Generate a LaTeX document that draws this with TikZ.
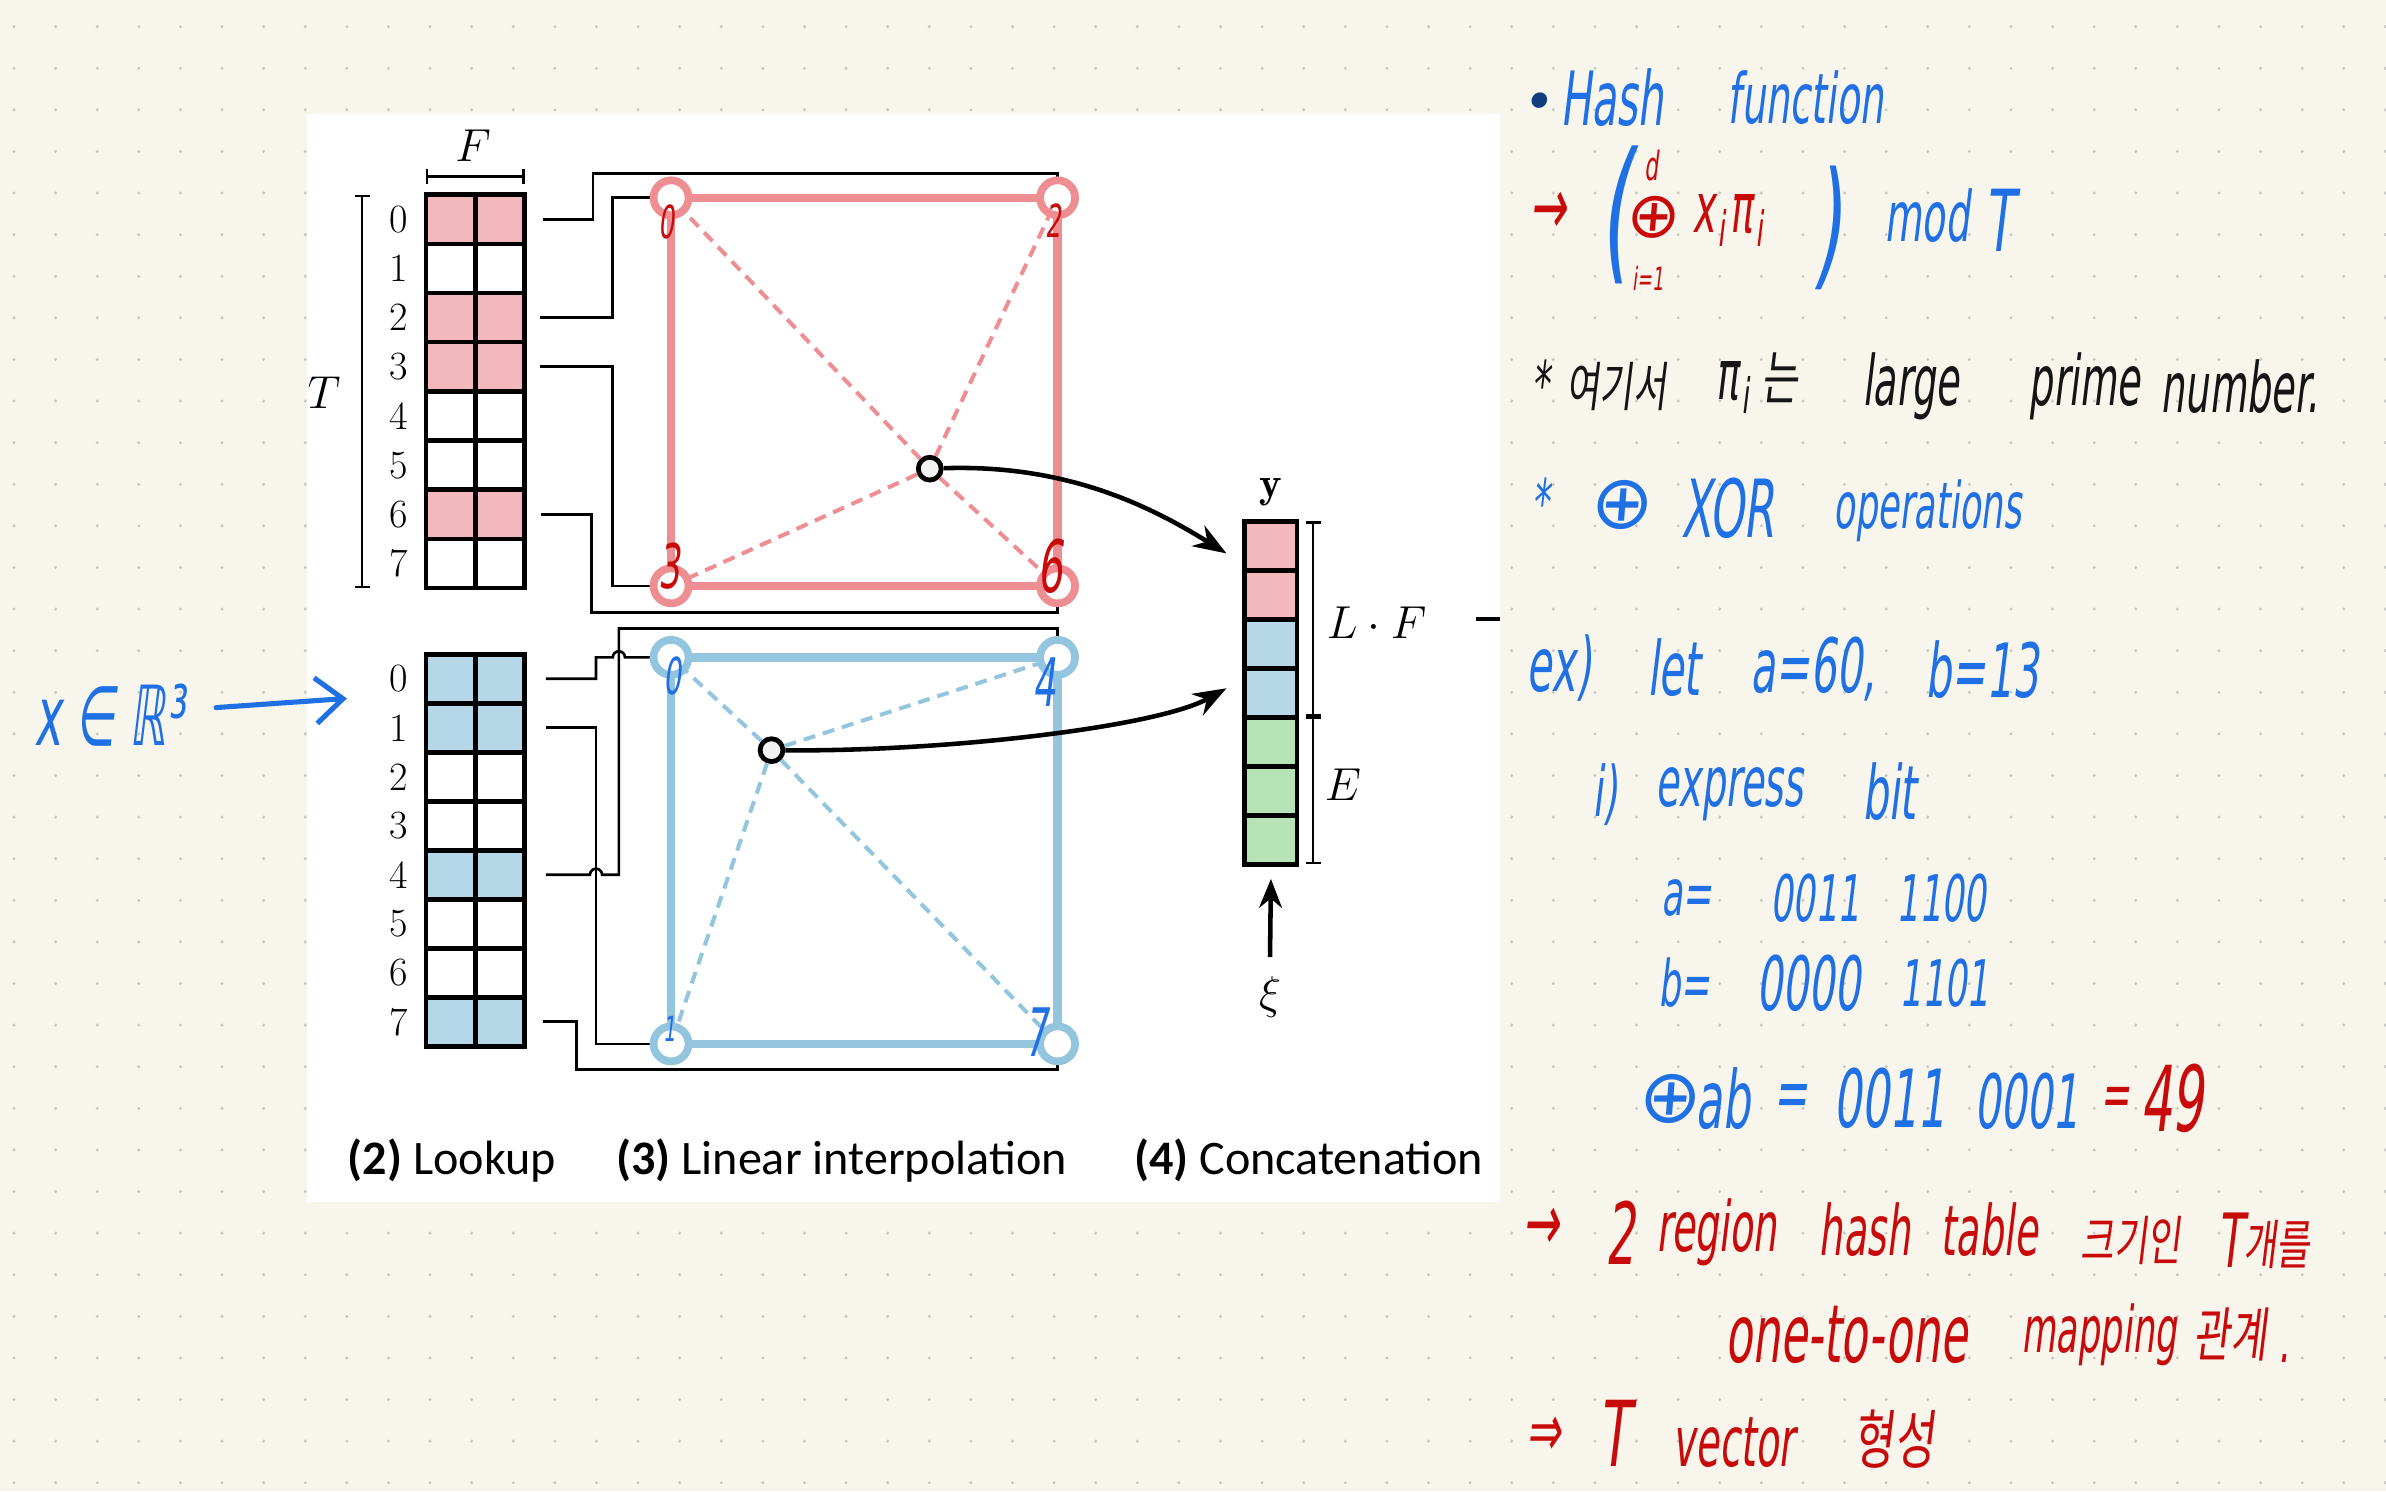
\documentclass[tikz,border=0pt]{standalone}
\usepackage{fontspec}
\usepackage{amsmath}
\usetikzlibrary{arrows.meta, positioning, calc}
\newfontfamily\capfont{Carlito}
\newfontfamily\hand{DejaVu Sans}[FakeStretch=0.55, FakeSlant=0.12]
\newfontfamily\handsym{DejaVu Sans}[FakeSlant=0.08]
\newfontfamily\handkr{Noto Sans CJK KR}[FakeStretch=0.68, FakeSlant=0.12]
\newcommand\hsz[1]{\fontsize{#1}{#1}\selectfont}
\definecolor{paper}{HTML}{F8F6EC}
\definecolor{dotc}{HTML}{C8C8C2}
\definecolor{cpink}{HTML}{F2B8BC}
\definecolor{cblue}{HTML}{B5D7E8}
\definecolor{cgreen}{HTML}{B6E3B6}
\definecolor{redline}{HTML}{EE8E93}
\definecolor{blueline}{HTML}{93C5DF}
\definecolor{penblue}{HTML}{1F6FE5}
\definecolor{penred}{HTML}{C80A0A}
\definecolor{penblack}{HTML}{151515}

\begin{document}
\begin{tikzpicture}[x=0.2mm, y=-0.2mm,
  cell/.style={draw, line width=1.7pt, inner sep=0pt, outer sep=0pt, minimum width=6.47mm, minimum height=6.46mm, anchor=north west},
  idx/.style={font=\hsz{15}, inner sep=0pt},
  mlbl/.style={font=\hsz{16}, inner sep=0pt},
  capt/.style={font=\capfont\hsz{18}, anchor=base, inner sep=0pt},
  wire/.style={line width=1pt},
  redge/.style={line width=3.2pt, draw=redline},
  bedge/.style={line width=3.2pt, draw=blueline},
  rdash/.style={line width=1.5pt, draw=redline, dash pattern=on 4.5pt off 3pt},
  bdash/.style={line width=1.5pt, draw=blueline, dash pattern=on 4.5pt off 3pt},
  rring/.style={circle, draw=redline, fill=white, line width=2.9pt, minimum size=4.6mm, inner sep=0pt},
  bring/.style={rring, draw=blueline},
  probe/.style={circle, draw=black, fill=white!95!black, line width=1.8pt, minimum size=3mm, inner sep=0pt},
  flow/.style={line width=1.7pt, -{Stealth[length=4.4mm, width=3.2mm]}},
  brk/.style={line width=0.9pt, {Bar[width=2mm]}-{Bar[width=2mm]}},
  pen/.style={line width=1.9pt, draw=penblue, line cap=round},
  hw/.style={anchor=west, inner sep=0pt, font=\hand\hsz{24}},
  hb/.style={hw, text=penblue},
  hr/.style={hw, text=penred},
  hk/.style={hw, text=penblack},
]
  % paper with dot grid
  \fill[paper] (0,0) rectangle (1568,980);
  \useasboundingbox (0,0) rectangle (1568,980);
  \foreach \i in {0,...,57}{\foreach \j in {0,...,35}{\fill[dotc] (9.2+27.34*\i,17.5+27.34*\j) circle[radius=1.1];}}
  \fill[white] (202,75) rectangle (985.7,790);

  % (2) lookup tables
  \foreach \k/\c in {0/cpink,1/white,2/cpink,3/cpink,4/white,5/white,6/cpink,7/white}{
    \node[cell, fill=\c] (rtl\k) at (280,128+32.3*\k) {};
    \node[cell, fill=\c] (rt\k) at (312.35,128+32.3*\k) {};
    \node[idx] (rn\k) at (262,144.2+32.3*\k) {\k};
  }
  \foreach \k/\c in {0/cblue,1/cblue,2/white,3/white,4/cblue,5/white,6/white,7/cblue}{
    \node[cell, fill=\c, minimum height=6.44mm] (btl\k) at (280,430+32.2*\k) {};
    \node[cell, fill=\c, minimum height=6.44mm] (bt\k) at (312.35,430+32.2*\k) {};
    \node[idx] (bn\k) at (262,446.1+32.2*\k) {\k};
  }
  \draw[brk] (238,128) -- (238,386.4);
  \node[mlbl] (tlab) at (213,258) {$T$};
  \draw[brk] (280,116) -- (344.7,116);
  \node[mlbl] (flab) at (311,96) {$F$};

  % (3) interpolation squares
  \coordinate (rc0) at (441,130);
  \coordinate (rc2) at (695,130);
  \coordinate (rc3) at (441,385);
  \coordinate (rc6) at (695,385);
  \coordinate (bc0) at (441,432);
  \coordinate (bc4) at (695,432);
  \coordinate (bc1) at (441,686);
  \coordinate (bc7) at (695,686);
  \node[probe] (rp) at (611,308) {};
  \node[probe] (bp) at (507,493) {};
  \foreach \c in {rc0,rc2,rc3,rc6} \draw[rdash] (rp) -- (\c);
  \foreach \c in {bc0,bc4,bc1,bc7} \draw[bdash] (bp) -- (\c);
  \draw[redge] (rc0) -- (rc2) -- (rc6) -- (rc3) -- cycle;
  \draw[bedge] (bc0) -- (bc4) -- (bc7) -- (bc1) -- cycle;

  % wires from table rows to corners
  \draw[wire] (rt0.east) ++(12,0) -- ++(33,0) |- ($(rc2)+(0,-16)$) -- (rc2);
  \draw[wire] (rt2.east) ++(10,0) -- ++(48,0) |- (rc0);
  \draw[wire] (rt3.east) ++(10,0) -- ++(48,0) |- (rc3);
  \draw[wire] (rt6.east) ++(11,0) -- ++(33,0) |- ($(rc6)+(0,17.5)$) -- (rc6);
  \draw[wire] (bt0.east) ++(14,0) -- ++(33,0) |- ($(bc0)+(-38.3,0)$) arc[start angle=180, end angle=360, radius=4] -- (bc0);
  \draw[wire] (bt1.east) ++(14,0) -- ++(33,0) |- (bc1);
  \draw[wire] (bt4.east) ++(14,0) -- ++(29,0) arc[start angle=180, end angle=360, radius=4] -- ++(11,0) |- ($(bc4)+(0,-19)$) -- (bc4);
  \draw[wire] (bt7.east) ++(12,0) -- ++(22,0) |- ($(bc7)+(0,17)$) -- (bc7);

  \foreach \c in {rc0,rc2,rc3,rc6} \node[rring] (\c-ring) at (\c) {};
  \foreach \c in {bc0,bc4,bc1,bc7} \node[bring] (\c-ring) at (\c) {};

  % handwritten corner numbers
  \node[hr, anchor=center, font=\hand\hsz{17}] (lr0) at (438,146) {0};
  \node[hr, anchor=center, font=\hand\hsz{17}] (lr2) at (692,145) {2};
  \node[hr, anchor=center, font=\hand\hsz{23}] (lr3) at (440,372) {3};
  \node[hr, anchor=center, font=\hand\hsz{27}] (lr6) at (690,372) {6};
  \node[hb, anchor=center, font=\hand\hsz{19}] (lb0) at (442,444) {0};
  \node[hb, anchor=center, font=\hand\hsz{25}] (lb4) at (686,448) {4};
  \node[hb, anchor=center, font=\hand\hsz{13}] (lb1) at (440,676) {1};
  \node[hb, anchor=center, font=\hand\hsz{25}] (lb7) at (681,678) {7};

  % (4) concatenation
  \foreach \k/\c in {1/cpink,2/cpink,3/cblue,4/cblue,5/cgreen,6/cgreen,7/cgreen}
    \node[cell, fill=\c, minimum width=6.88mm, minimum height=6.44mm] (yc\k) at (818,310.4+32.2*\k) {};
  \node[mlbl, above=1.9mm of yc1] (ylab) {$\mathbf{y}$};
  \draw[brk] (863,342.6) -- (863,471);
  \draw[brk] (863,471) -- (863,568);
  \node[mlbl] (lflab) at (904.7,409) {$L\cdot F$};
  \node[mlbl] (elab) at (882.6,516) {$E$};
  \node[mlbl] (xi) at (834.6,655) {$\xi$};
  \draw[flow, -{Stealth[length=3.8mm, width=3mm]}] ($(xi)+(0,-26)$) -- ($(yc7.south)+(0,9.6)$);
  \draw[flow] (rp) .. controls (700,305) and (755,332) .. ($(yc1.west)+(-12,5)$);
  \draw[flow] (bp) .. controls (620,494) and (760,478) .. ($(yc4.west)+(-12,-3)$);
  \coordinate (lfout) at (985.7,407);
  \draw[line width=1.4pt] (lfout) -- ++(-15.7,0);

  % captions
  \node[capt] (cap2) at (297,772) {\textbf{(2)} Lookup};
  \node[capt] (cap3) at (553,772) {\textbf{(3)} Linear interpolation};
  \node[capt] (cap4) at (860,772) {\textbf{(4)} Concatenation};

  % handwritten notes
  \node[hb, font=\hand\hsz{31}] (hx) at (22,470) {x ∈ ℝ³};
  \coordinate (xtail) at (142,465);
  \coordinate (xhead) at (228,459);
  \draw[pen, -{Straight Barb[length=3.6mm, width=6mm]}] (xtail) -- (xhead);

  \node[hb, font=\handsym\hsz{20}, text=penblue!55!black] (h1a) at (1000,70) {•};
  \node[hb, font=\hand\hsz{28}] (h1b) at (1025,64) {Hash};
  \node[hb, font=\hand\hsz{26}] (h1c) at (1135,64) {function};

  \node[hr, font=\hand\hsz{30}] (h2a) at (1005,140) {→};
  \node[hb, font=\hand\hsz{58}] (h2b) at (1050,141) {(};
  \node[hr, font=\handsym\hsz{24}] (h2c) at (1068,143) {⊕};
  \node[hr, anchor=center, font=\hand\hsz{15}] (h2d) at (1085,109) {d};
  \node[hr, anchor=center, font=\hand\hsz{12}] (h2e) at (1083,183) {i=1};
  \node[hr, font=\hand\hsz{26}] (h2f) at (1112,145) {x\kern1pt\textsubscript{i}\kern1ptπ\kern1pt\textsubscript{i}};
  \node[hb, font=\hand\hsz{52}] (h2g) at (1190,150) {)};
  \node[hb, font=\hand\hsz{26}] (h2h) at (1238,142) {mod};
  \node[hb, font=\hand\hsz{32}] (h2i) at (1304,145) {T};

  \node[hk] (h3a) at (1006,252) {*};
  \node[hk, font=\handkr\hsz{20}] (h3b) at (1029,254) {여기서};
  \node[hk, font=\hand\hsz{26}] (h3c) at (1127,252) {π\kern1pt\textsubscript{i}\,{\handkr\hsz{22}는}};
  \node[hk, font=\hand\hsz{26}] (h3d) at (1223.5,254) {large};
  \node[hk, font=\hand\hsz{26}] (h3e) at (1333,254) {prime};
  \node[hk, font=\hand\hsz{26}] (h3f) at (1419.5,254) {number.};

  \node[hb] (h4a) at (1006,330) {*};
  \node[hb, font=\handsym\hsz{28}] (h4b) at (1044,332) {⊕};
  \node[hb, font=\hand\hsz{30}] (h4c) at (1104.7,334) {XOR};
  \node[hb, font=\hand\hsz{24}] (h4d) at (1204.6,336) {operations};

  \node[hb, font=\hand\hsz{28}] (h5a) at (1003,439) {ex)};
  \node[hb, font=\hand\hsz{28}] (h5b) at (1082,439) {let};
  \node[hb, font=\hand\hsz{28}] (h5c) at (1150,440) {a=60,};
  \node[hb, font=\hand\hsz{28}] (h5d) at (1265,440) {b=13};

  \node[hb, font=\hand\hsz{26}] (h6a) at (1046,522) {i)};
  \node[hb, font=\hand\hsz{26}] (h6b) at (1087.6,522) {express};
  \node[hb, font=\hand\hsz{28}] (h6c) at (1223.5,520) {bit};

  \node[hb, font=\hand\hsz{24}] (h7a) at (1091.4,590) {a=};
  \node[hb, font=\hand\hsz{24}] (h7b) at (1163,590) {0011};
  \node[hb, font=\hand\hsz{24}] (h7c) at (1246,590) {1100};

  \node[hb, font=\hand\hsz{24}] (h8a) at (1089.6,646) {b=};
  \node[hb, font=\hand\hsz{28}] (h8b) at (1153.7,646) {0000};
  \node[hb, font=\hand\hsz{24}] (h8c) at (1248,646) {1101};

  \node[hb, font=\handsym\hsz{28}] (h9a) at (1076,722) {⊕};
  \node[hb, font=\hand\hsz{30}] (h9b) at (1114,722) {ab};
  \node[hb, font=\hand\hsz{28}] (h9c) at (1165,724) {=};
  \node[hb, font=\hand\hsz{30}] (h9d) at (1204.6,722) {0011};
  \node[hb, font=\hand\hsz{28}] (h9e) at (1297,724) {0001};
  \node[hr] (h9f) at (1380,724) {=};
  \node[hr, font=\hand\hsz{34}] (h9g) at (1406,722) {49};

  \node[hr, font=\hand\hsz{30}] (h10a) at (1000.5,808) {→};
  \node[hr, font=\hand\hsz{32}] (h10b) at (1054.5,810) {2};
  \node[hr, font=\hand\hsz{26}] (h10c) at (1088,810) {region};
  \node[hr, font=\hand\hsz{26}] (h10d) at (1195,808) {hash};
  \node[hr, font=\hand\hsz{26}] (h10e) at (1275,808) {table};
  \node[hr, font=\handkr\hsz{20}] (h10f) at (1367,815) {크기인};
  \node[hr, font=\hand\hsz{28}] (h10g) at (1457,815) {T};
  \node[hr, font=\handkr\hsz{20}] (h10h) at (1474,818) {개를};

  \node[hr, font=\hand\hsz{30}] (h11a) at (1133.6,877) {one-to-one};
  \node[hr, font=\hand\hsz{24}] (h11b) at (1328,877) {mapping};
  \node[hr, font=\handkr\hsz{22}] (h11c) at (1441,877) {관계};
  \node[hr] (h11d) at (1497,893) {.};

  \node[hr, font=\hand\hsz{28}] (h12a) at (1003,944) {⇒};
  \node[hr, font=\hand\hsz{34}] (h12b) at (1050,942) {T};
  \node[hr, font=\hand\hsz{26}] (h12c) at (1099,948) {vector};
  \node[hr, font=\handkr\hsz{24}] (h12d) at (1218,946) {형성};
\end{tikzpicture}
\end{document}
